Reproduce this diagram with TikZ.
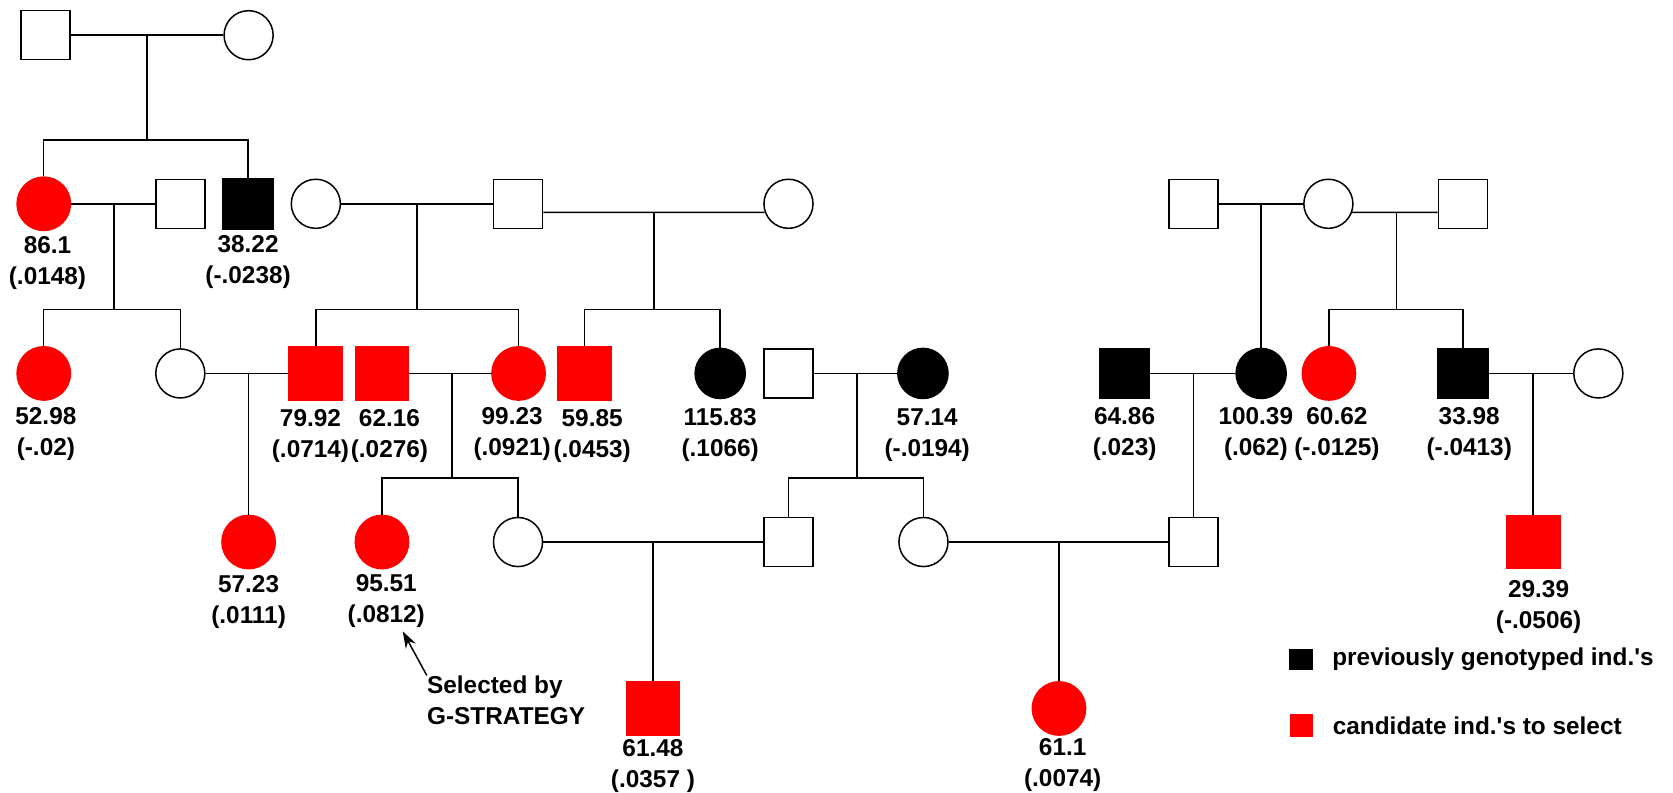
\documentclass[tikz,border=0pt]{standalone}
\usepackage{fontspec}
\setmainfont{Liberation Sans}
\usepackage{xcolor}
\usepackage{tikz}
\usetikzlibrary{positioning,arrows.meta,shapes.geometric}
\definecolor{pickred}{RGB}{255,0,0}

\begin{document}
\begin{tikzpicture}[
  x=0.02cm, y=-0.02cm,
  font=\fontsize{13}{16.5}\selectfont\bfseries,
  male/.style={rectangle, draw, line width=0.8pt, fill=white, minimum size=0.92cm, inner sep=0pt},
  female/.style={circle, draw, line width=0.8pt, fill=white, minimum size=0.92cm, inner sep=0pt},
  typed/.style={fill=black, minimum size=0.94cm},
  cand/.style={fill=pickred, draw=pickred, minimum size=1.0cm},
  val/.style={align=center, inner sep=0pt},
  tie/.style={line width=0.8pt},
  pointer/.style={-{Stealth[length=9pt,width=6pt]}, line width=0.8pt},
  key/.style={rectangle, inner sep=0pt, minimum width=0.44cm, minimum height=0.42cm},
  node distance=0.12cm
]
\useasboundingbox (0,0) rectangle (1568,743);

\node[male] (a1) at (42.5,33) {};
\node[female] (a2) at (233,33) {};

\node[female, cand] (b1) at (41,191) {};
\node[male] (b2) at (169,191) {};
\node[male, typed] (b3) at (232.5,191) {};
\node[female] (b4) at (296,191) {};
\node[male] (b5) at (485.5,191) {};
\node[female] (b6) at (739,191) {};
\node[male] (b7) at (1118.5,191) {};
\node[female] (b8) at (1245,191) {};
\node[male] (b9) at (1371,191) {};

\node[female, cand] (c1) at (41,350) {};
\node[female] (c2) at (169,350) {};
\node[male, cand] (c3) at (296,350) {};
\node[male, cand] (c4) at (358,350) {};
\node[female, cand] (c5) at (486,350) {};
\node[male, cand] (c6) at (548,350) {};
\node[female, typed] (c7) at (675,350) {};
\node[male] (c8) at (739,350) {};
\node[female, typed] (c9) at (865,350) {};
\node[male, typed] (c10) at (1054,350) {};
\node[female, typed] (c11) at (1182,350) {};
\node[female, cand] (c12) at (1245.5,350) {};
\node[male, typed] (c13) at (1371,350) {};
\node[female] (c14) at (1498,350) {};

\node[female, cand] (d1) at (233,508) {};
\node[female, cand] (d2) at (358,508) {};
\node[female] (d3) at (485.5,508) {};
\node[male] (d4) at (739,508) {};
\node[female] (d5) at (865.5,508) {};
\node[male] (d6) at (1118.5,508) {};
\node[male, cand] (d7) at (1437,508) {};

\node[male, cand] (e1) at (612,664) {};
\node[female, cand] (e2) at (992.5,664) {};

\node[val, below=0.09cm of b1, xshift=0.07cm] (vb1) {86.1\\(.0148)};
\node[val, below=0.1cm of b3] (vb3) {38.22\\(-.0238)};
\node[val, below=0.12cm of c1, xshift=0.04cm] (vc1) {52.98\\(-.02)};
\node[val, below=0.15cm of c3, xshift=-0.1cm] (vc3) {79.92\\(.0714)};
\node[val, below=0.15cm of c4, xshift=0.14cm] (vc4) {62.16\\(.0276)};
\node[val, below=0.12cm of c5, xshift=-0.12cm] (vc5) {99.23\\(.0921)};
\node[val, below=0.15cm of c6, xshift=0.14cm] (vc6) {59.85\\(.0453)};
\node[val, below=0.17cm of c7] (vc7) {115.83\\(.1066)};
\node[val, below=0.17cm of c9, xshift=0.08cm] (vc9) {57.14\\(-.0194)};
\node[val, below=0.15cm of c10] (vc10) {64.86\\(.023)};
\node[val, below=0.15cm of c11, xshift=-0.1cm] (vc11) {100.39\\(.062)};
\node[val, below=0.11cm of c12, xshift=0.15cm] (vc12) {60.62\\(-.0125)};
\node[val, below=0.15cm of c13, xshift=0.12cm] (vc13) {33.98\\(-.0413)};
\node[val, below=0.1cm of d1] (vd1) {57.23\\(.0111)};
\node[val, below=0.09cm of d2, xshift=0.08cm] (vd2) {95.51\\(.0812)};
\node[val, below=0.2cm of d7, xshift=0.1cm] (vd7) {29.39\\(-.0506)};
\node[val, below=0.06cm of e1] (ve1) {61.48\\(.0357 )};
\node[val, below=0.05cm of e2, xshift=0.07cm] (ve2) {61.1\\(.0074)};

\coordinate (j1) at (138,33);
\coordinate (s1) at (138,131);
\coordinate (j2) at (107,191);
\coordinate (s2) at (107,290);
\coordinate (j3) at (391,191);
\coordinate (s3) at (391,290);
\coordinate (j4) at (613,199);
\coordinate (s4) at (613,290);
\coordinate (j5) at (1182,191);
\coordinate (j6) at (1309,199);
\coordinate (s6) at (1309,290);
\coordinate (j7) at (233,350);
\coordinate (j8) at (423.5,350);
\coordinate (s8) at (423.5,448);
\coordinate (j9) at (803,350);
\coordinate (s9) at (803,448);
\coordinate (j10) at (1118.5,350);
\coordinate (j11) at (1437,350);
\coordinate (j12) at (612,508);
\coordinate (j13) at (992.5,508);

\draw[tie] (a1) -- (a2);
\draw[tie] (j1) -- (s1);
\draw[tie] (b1) |- (s1) -| (b3);
\draw[tie] (b1) -- (b2);
\draw[tie] (j2) -- (s2);
\draw[tie] (c1) |- (s2) -| (c2);
\draw[tie] (b4) -- (b5);
\draw[tie] (j3) -- (s3);
\draw[tie] (c3) |- (s3) -| (c5);
\draw[tie] (b5.east |- j4) -- (b6.200);
\draw[tie] (j4) -- (s4);
\draw[tie] (c6) |- (s4) -| (c7);
\draw[tie] (b7) -- (b8);
\draw[tie] (j5) -- (c11);
\draw[tie] (b8.340) -- (b9.west |- j6);
\draw[tie] (j6) -- (s6);
\draw[tie] (c12) |- (s6) -| (c13);
\draw[tie] (c2) -- (c3);
\draw[tie] (j7) -- (d1);
\draw[tie] (c4) -- (c5);
\draw[tie] (j8) -- (s8);
\draw[tie] (d2) |- (s8) -| (d3);
\draw[tie] (c8) -- (c9);
\draw[tie] (j9) -- (s9);
\draw[tie] (d4) |- (s9) -| (d5);
\draw[tie] (c10) -- (c11);
\draw[tie] (j10) -- (d6);
\draw[tie] (c13) -- (c14);
\draw[tie] (j11) -- (d7);
\draw[tie] (d3) -- (d4);
\draw[tie] (j12) -- (e1);
\draw[tie] (d5) -- (d6);
\draw[tie] (j13) -- (e2);

\node[align=left, anchor=north west, inner sep=0pt] (sel) at (400,633) {Selected by\\G-STRATEGY};
\draw[pointer, shorten >=2pt] (sel.north west) -- (vd2);

\node[key, fill=black, minimum height=0.38cm] (k1) at (1219.5,618) {};
\node[key, fill=pickred] (k2) at (1220,680) {};
\node[inner sep=0pt, right=0.35cm of k1] (k1t) {previously genotyped ind.\textquotesingle s};
\node[inner sep=0pt, right=0.35cm of k2] (k2t) {candidate ind.\textquotesingle s to select};
\end{tikzpicture}
\end{document}
